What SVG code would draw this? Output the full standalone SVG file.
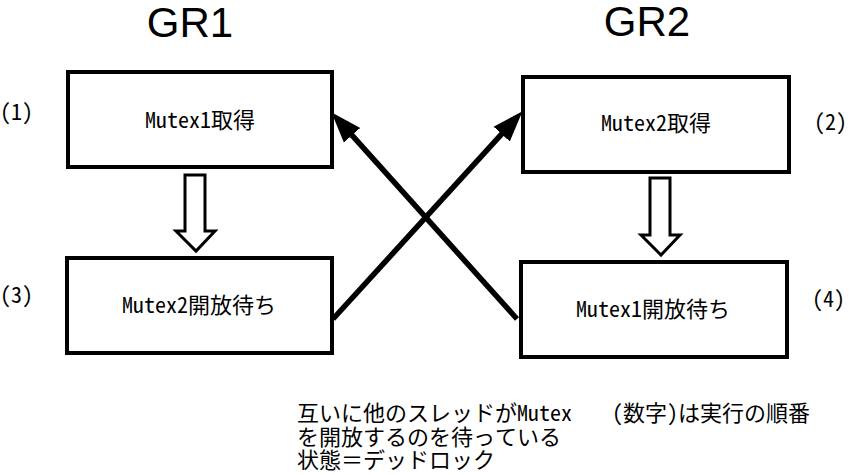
<svg xmlns="http://www.w3.org/2000/svg" width="851" height="475" viewBox="0 0 851 475">
<style>
.box{fill:#fff;stroke:#000;stroke-width:4}
.hollow{fill:#fff;stroke:#000;stroke-width:3;stroke-linejoin:miter}
.conn{stroke:#000;stroke-width:5.5;fill:none}
.title{font-family:"Liberation Sans",Arial,sans-serif;font-size:42px;fill:#000}
.lbl{font-family:"Noto Sans Mono CJK JP","Noto Sans CJK JP",monospace;font-size:22px;fill:#000}
.num{font-family:"Noto Sans Mono CJK JP","Noto Sans CJK JP",monospace;font-size:22px;fill:#000}
.note{font-family:"Noto Sans Mono CJK JP","Noto Sans CJK JP",monospace;font-size:22px;fill:#000}
</style>
<defs>
<marker id="ah" markerUnits="userSpaceOnUse" markerWidth="34" markerHeight="24" viewBox="0 -12 34 24" refX="10" refY="0" orient="auto">
<path d="M0,-11 L31,0 L0,11 z" fill="#000"/>
</marker>
</defs>
<rect width="851" height="475" fill="#fff"/>
<text class="title" x="190" y="37" text-anchor="middle">GR1</text>
<text class="title" x="647" y="36" text-anchor="middle">GR2</text>
<g id="node1"><rect class="box" x="68" y="72" width="264" height="95"/><text class="lbl" x="200" y="128" text-anchor="middle">Mutex1取得</text></g>
<g id="node2"><rect class="box" x="523" y="77" width="266" height="95"/><text class="lbl" x="656" y="131" text-anchor="middle">Mutex2取得</text></g>
<g id="node3"><rect class="box" x="67" y="258" width="265" height="95"/><text class="lbl" x="199" y="313" text-anchor="middle">Mutex2開放待ち</text></g>
<g id="node4"><rect class="box" x="521" y="262" width="266" height="95"/><text class="lbl" x="653" y="317" text-anchor="middle">Mutex1開放待ち</text></g>
<g id="connectors">
<polygon class="hollow" points="185,175 205,175 205,231 215,231 196,251 176,231 185,231"/>
<polygon class="hollow" points="650,178 670,178 670,235 680,235 661,255 641,235 650,235"/>
<line class="conn" x1="333" y1="319" x2="508.4" y2="126.7" marker-end="url(#ah)"/>
<line class="conn" x1="517" y1="319" x2="345.4" y2="127.8" marker-end="url(#ah)"/>
</g>
<text class="num" x="0" y="120">(1)</text>
<text class="num" x="814" y="130">(2)</text>
<text class="num" x="0" y="303">(3)</text>
<text class="num" x="812" y="307">(4)</text>
<text class="note" x="297" y="421">互いに他のスレッドがMutex</text>
<text class="note" x="297" y="444.5">を開放するのを待っている</text>
<text class="note" x="297" y="468">状態＝デッドロック</text>
<text class="note" x="612" y="421">(数字)は実行の順番</text>
</svg>
